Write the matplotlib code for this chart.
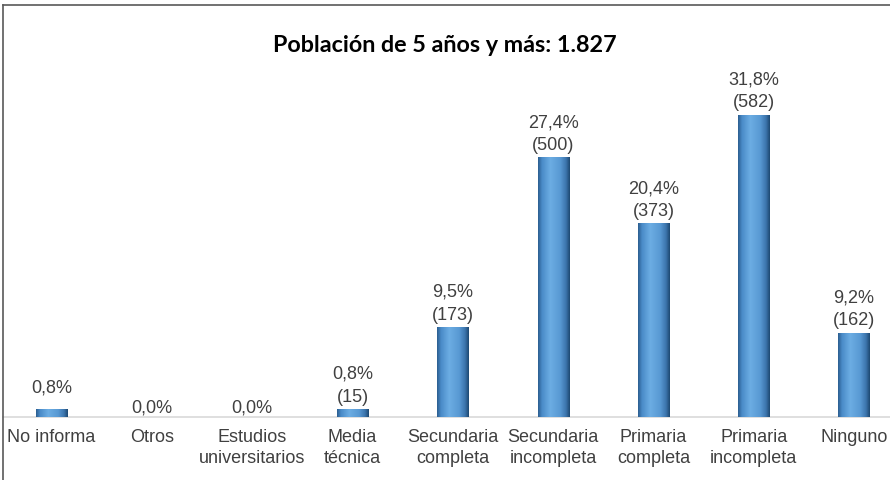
import matplotlib
matplotlib.use('Agg')
import matplotlib.pyplot as plt
import numpy as np
from matplotlib.colors import LinearSegmentedColormap
from matplotlib.lines import Line2D

categories = ['No informa', 'Otros', 'Estudios\nuniversitarios', 'Media\ntécnica',
              'Secundaria\ncompleta', 'Secundaria\nincompleta', 'Primaria\ncompleta',
              'Primaria\nincompleta', 'Ninguno']
counts = [15, 0, 0, 15, 173, 500, 373, 582, 162]
percents = [0.8, 0.0, 0.0, 0.8, 9.5, 27.4, 20.4, 31.8, 9.2]
show_count = [False, False, False, True, True, True, True, True, True]
title = 'Población de 5 años y más: 1.827'

text_color = '#404040'
plt.rcParams['font.family'] = ['Liberation Sans', 'DejaVu Sans']

fig = plt.figure(figsize=(8.9, 4.81), dpi=100)
ax = fig.add_axes([3 / 890, (481 - 417.7) / 481, 887 / 890, 357.7 / 481])

# cylinder-like shading across each bar
cyl = LinearSegmentedColormap.from_list('cyl', [
    (0.0, '#2C5F91'), (0.12, '#4A8BC8'), (0.38, '#6CADE3'),
    (0.7, '#5899D3'), (0.88, '#3D76AE'), (1.0, '#1E4A74')])
grad = np.linspace(0, 1, 64).reshape(1, -1)

x = np.arange(len(categories))
width = 0.31
bars = ax.bar(x, counts, width=width, color='#5B9BD5', zorder=2)
for b in bars:
    if b.get_height() <= 0:
        continue
    im = ax.imshow(grad, cmap=cyl, aspect='auto', zorder=3,
                   extent=[b.get_x(), b.get_x() + b.get_width(), 0, b.get_height()])
    im.set_clip_path(b)

for xi, c, p, s in zip(x, counts, percents, show_count):
    label = f'{p:.1f}%'.replace('.', ',')
    if s:
        label += f'\n({c})'
        off = 3
    elif c > 0:
        off = 10
    else:
        off = 1
    ax.annotate(label, (xi, c), xytext=(0, off), textcoords='offset points',
                ha='center', va='bottom', fontsize=13, color=text_color,
                linespacing=1.45)

ax.set_xlim(-0.4845, 8.359)
ax.set_ylim(0, 689)
ax.set_xticks(x)
ax.set_xticklabels(categories, fontsize=13, color=text_color, linespacing=1.3)
ax.tick_params(axis='x', length=0, pad=8)
ax.set_yticks([])
for sp in ['top', 'right', 'left']:
    ax.spines[sp].set_visible(False)
ax.spines['bottom'].set_color('#D9D9D9')
ax.spines['bottom'].set_linewidth(1.2)

fig.text(0.5, 1 - 46 / 481, title, ha='center', va='center', fontsize=16.8,
         fontweight='bold', family=['Lato', 'DejaVu Sans'], color='black')

# chart frame
fig.add_artist(Line2D([3 / 890, 3 / 890], [0, 1 - 6 / 481], color='#595959', lw=1.2))
fig.add_artist(Line2D([3 / 890, 1], [1 - 6 / 481, 1 - 6 / 481], color='#595959', lw=1.2))

fig.savefig('out.png', dpi=100)
